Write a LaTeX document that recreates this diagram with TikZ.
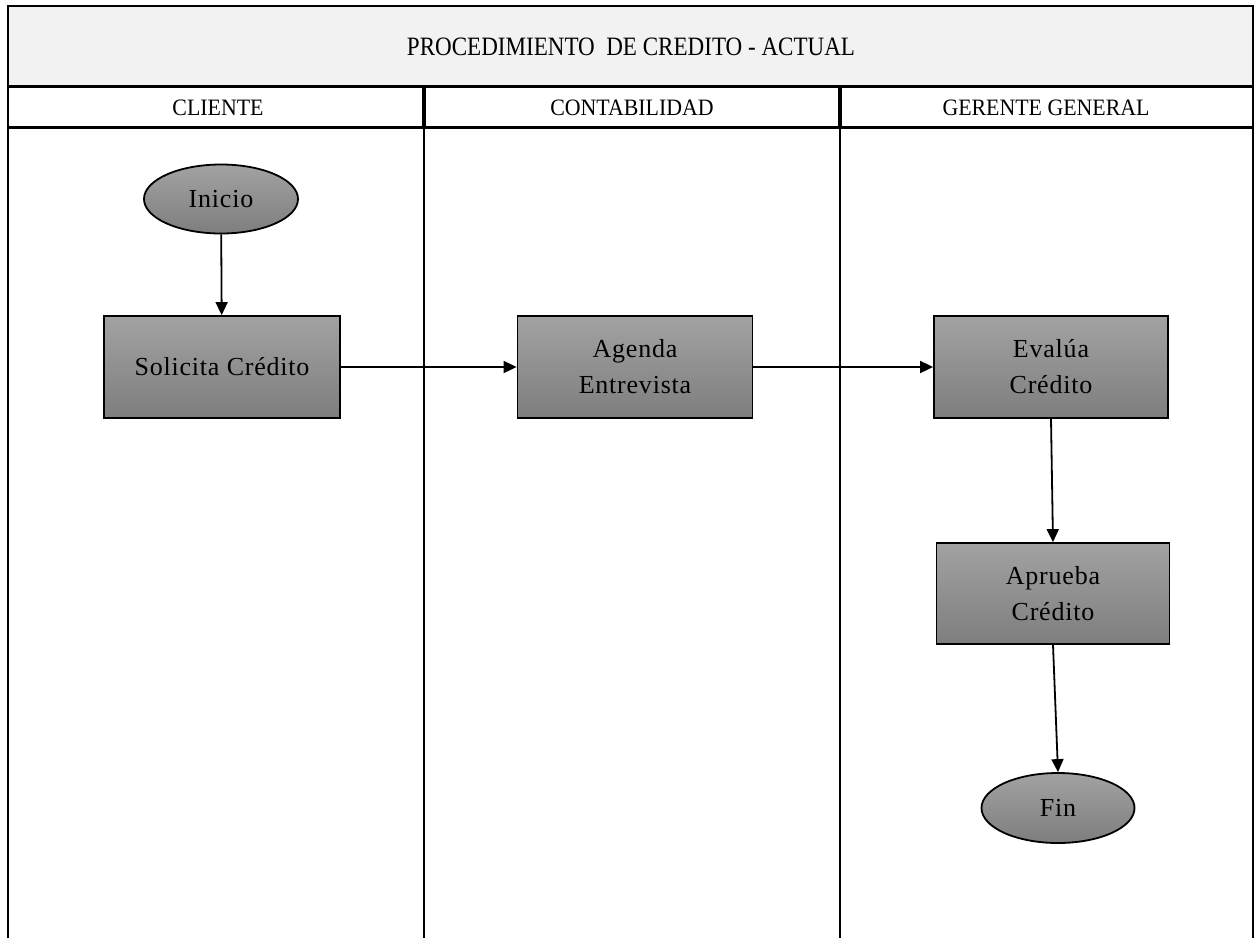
\documentclass[tikz,border=0pt]{standalone}
\usepackage{fontspec}
\setmainfont{Liberation Serif}
\newfontfamily\titlefont[FakeStretch=0.87]{Liberation Serif}
\newfontfamily\headfont[FakeStretch=0.93]{Liberation Serif}
\newfontfamily\boxfont[LetterSpace=3]{Liberation Serif}
\usetikzlibrary{arrows.meta,shapes.geometric}
\definecolor{bandgray}{HTML}{F2F2F2}
\definecolor{boxtop}{HTML}{A2A2A2}
\definecolor{boxbot}{HTML}{7E7E7E}
\tikzset{
  proc/.style={draw=black, line width=1.8pt, rectangle, top color=boxtop, bottom color=boxbot,
    minimum width=235pt, minimum height=102pt, inner sep=0pt, align=center,
    font=\boxfont\fontsize{26}{36}\selectfont},
  term/.style={draw=black, line width=1.8pt, ellipse, top color=boxtop, bottom color=boxbot,
    minimum width=154pt, minimum height=69pt, inner sep=0pt,
    font=\boxfont\fontsize{26}{36}\selectfont},
  flow/.style={line width=1.8pt, -{Triangle[length=13pt,width=12pt]}},
  lane/.style={line width=2pt},
  rule/.style={line width=3.4pt},
  headtext/.style={font=\headfont\fontsize{23.5}{28}\selectfont},
  titletext/.style={font=\titlefont\fontsize{26.5}{30}\selectfont}
}
\begin{document}
\begin{tikzpicture}[x=1pt,y=-1pt]
\useasboundingbox (0,0) rectangle (1256,938);

% title band
\fill[bandgray] (8,6) rectangle (1253,86);
\node[titletext] (title) at (631,47) {PROCEDIMIENTO\ \ DE CREDITO - ACTUAL};

% frame and header rules
\draw[line width=2pt] (8,938) -- (8,6) -- (1253,6) -- (1253,938);
\draw[rule] (8,86.5) -- (1253,86.5);
\draw[rule] (8,127.5) -- (1253,127.5);

% lane dividers
\draw[line width=4pt] (424,86.5) -- (424,127.5);
\draw[line width=4pt] (840,86.5) -- (840,127.5);
\draw[lane] (424,127.5) -- (424,938);
\draw[lane] (840,127.5) -- (840,938);

% lane titles
\node[headtext] (lane1) at (218,108) {CLIENTE};
\node[headtext] (lane2) at (632,108) {CONTABILIDAD};
\node[headtext] (lane3) at (1046,108) {GERENTE GENERAL};

% flow elements
\node[term] (inicio) at (221,199) {Inicio};
\node[proc, minimum width=236pt] (solicita) at (222,367) {Solicita Crédito};
\node[proc] (agenda) at (635,367) {Agenda\\Entrevista};
\node[proc, minimum width=234pt] (evalua) at (1051,367) {Evalúa\\Crédito};
\node[proc, minimum width=233pt, minimum height=101pt] (aprueba) at (1053,593.5) {Aprueba\\Crédito};
\node[term, minimum width=153pt, minimum height=70pt] (fin) at (1058,808) {Fin};

% connectors
\draw[flow] (inicio) -- (solicita);
\draw[flow] (solicita) -- (agenda);
\draw[flow] (agenda) -- (evalua);
\draw[flow] (evalua.south) -- (aprueba.north);
\draw[flow] (aprueba.south) -- (fin.north);
\end{tikzpicture}
\end{document}
